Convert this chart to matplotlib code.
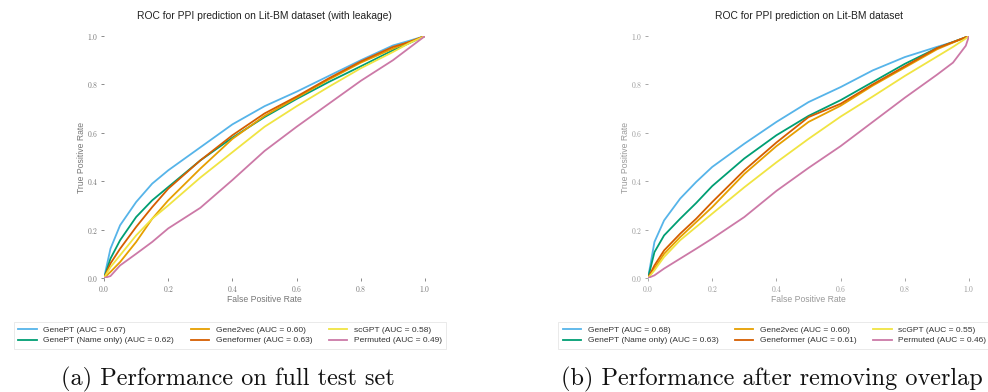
import numpy as np
import matplotlib
matplotlib.use("Agg")
import matplotlib.pyplot as plt

plt.rcParams["mathtext.fontset"] = "cm"

fpr_grid = [0.0, 0.02, 0.05, 0.1, 0.15, 0.2, 0.3, 0.4, 0.5, 0.6, 0.7, 0.8, 0.9, 0.95, 0.99, 1.0]

# panel (a): full test set
full_tpr = {
    "GenePT": [0.0, 0.121, 0.218, 0.314, 0.39, 0.445, 0.54, 0.635, 0.71, 0.77, 0.835, 0.90, 0.961, 0.98, 0.996, 1.0],
    "GenePT (Name only)": [0.0, 0.08, 0.156, 0.252, 0.321, 0.376, 0.486, 0.58, 0.665, 0.74, 0.81, 0.875, 0.941, 0.97, 0.995, 1.0],
    "Gene2vec": [0.0, 0.025, 0.066, 0.149, 0.245, 0.321, 0.452, 0.575, 0.67, 0.745, 0.82, 0.89, 0.948, 0.975, 0.995, 1.0],
    "Geneformer": [0.0, 0.06, 0.121, 0.211, 0.293, 0.369, 0.486, 0.59, 0.68, 0.75, 0.825, 0.895, 0.955, 0.975, 0.995, 1.0],
    "scGPT": [0.0, 0.045, 0.094, 0.176, 0.245, 0.30, 0.415, 0.52, 0.625, 0.71, 0.79, 0.867, 0.934, 0.97, 0.994, 1.0],
    "Permuted": [0.0, 0.008, 0.052, 0.10, 0.149, 0.205, 0.29, 0.405, 0.525, 0.625, 0.72, 0.815, 0.90, 0.95, 0.99, 1.0],
}
full_auc = [0.67, 0.62, 0.60, 0.63, 0.58, 0.49]

# panel (b): after removing overlap
clean_tpr = {
    "GenePT": [0.0, 0.149, 0.238, 0.328, 0.397, 0.459, 0.555, 0.645, 0.727, 0.789, 0.858, 0.913, 0.955, 0.975, 0.995, 1.0],
    "GenePT (Name only)": [0.0, 0.107, 0.176, 0.245, 0.31, 0.38, 0.494, 0.59, 0.67, 0.735, 0.81, 0.885, 0.95, 0.975, 0.995, 1.0],
    "Gene2vec": [0.0, 0.039, 0.10, 0.169, 0.231, 0.293, 0.43, 0.545, 0.645, 0.712, 0.795, 0.87, 0.945, 0.973, 0.995, 1.0],
    "Geneformer": [0.0, 0.052, 0.114, 0.183, 0.245, 0.314, 0.445, 0.56, 0.665, 0.72, 0.80, 0.875, 0.95, 0.975, 0.995, 1.0],
    "scGPT": [0.0, 0.032, 0.087, 0.156, 0.211, 0.266, 0.375, 0.478, 0.575, 0.667, 0.75, 0.835, 0.915, 0.955, 0.99, 1.0],
    "Permuted": [0.0, 0.011, 0.039, 0.08, 0.121, 0.163, 0.252, 0.36, 0.455, 0.545, 0.645, 0.745, 0.84, 0.89, 0.96, 1.0],
}
clean_auc = [0.68, 0.63, 0.60, 0.61, 0.55, 0.46]

models = ["GenePT", "GenePT (Name only)", "Gene2vec", "Geneformer", "scGPT", "Permuted"]
colors = ["#56B4E9", "#009E73", "#E69F00", "#D55E00", "#F0E442", "#CC79A7"]
ticks = [0.0, 0.2, 0.4, 0.6, 0.8, 1.0]

fig = plt.figure(figsize=(9.88, 3.92), dpi=100)


def draw_panel(rect, tpr_dict, aucs, title, caption, cap_x, txt_color, leg_x):
    ax = fig.add_axes(rect)
    handles = []
    for name, col, auc in zip(models, colors, aucs):
        h, = ax.plot(fpr_grid, tpr_dict[name], color=col, lw=1.3,
                     label="%s (AUC = %.2f)" % (name, auc))
        handles.append(h)
    ax.set_xlim(0, 1)
    ax.set_ylim(0, 1)
    for s in ax.spines.values():
        s.set_visible(False)
    ax.set_xticks(ticks)
    ax.set_yticks(ticks)
    tick_txt = [r"$%.1f$" % t for t in ticks]
    ax.set_xticklabels(tick_txt, fontsize=5.5, color=txt_color)
    ax.set_yticklabels(tick_txt, fontsize=5.5, color=txt_color)
    ax.tick_params(length=2, width=0.6, color=txt_color, pad=2)
    ax.set_xlabel("False Positive Rate", family="Liberation Sans", fontsize=6.2,
                  color=txt_color, labelpad=1)
    ax.set_ylabel("True Positive Rate", family="Liberation Sans", fontsize=6.2,
                  color=txt_color, labelpad=1)
    ax.set_title(title, family="Liberation Sans", fontsize=7.4, color="#222222", pad=12)

    leg = fig.legend(handles=handles, ncol=3, loc="upper left",
                     bbox_to_anchor=(leg_x, 0.19), fancybox=False,
                     prop={"family": "Liberation Sans", "size": 6},
                     handlelength=2.2, handletextpad=0.8, columnspacing=2.0,
                     borderpad=0.5, labelspacing=0.35)
    leg.get_frame().set_edgecolor("#e0e0e0")
    leg.get_frame().set_linewidth(0.6)
    for t in leg.get_texts():
        t.set_color("#333333")

    fig.text(cap_x, 0.018, caption, family="cmr10", fontsize=17.5,
             ha="left", va="baseline", color="#111111")
    return ax


draw_panel([0.1053, 0.2908, 0.3249, 0.6173], full_tpr, full_auc,
           "ROC for PPI prediction on Lit-BM dataset (with leakage)",
           "(a) Performance on full test set", 0.062, "#777777", 0.010)
draw_panel([0.6559, 0.2908, 0.3249, 0.6173], clean_tpr, clean_auc,
           "ROC for PPI prediction on Lit-BM dataset",
           "(b) Performance after removing overlap", 0.568, "#999999", 0.561)

fig.savefig("out.png", dpi=100)
